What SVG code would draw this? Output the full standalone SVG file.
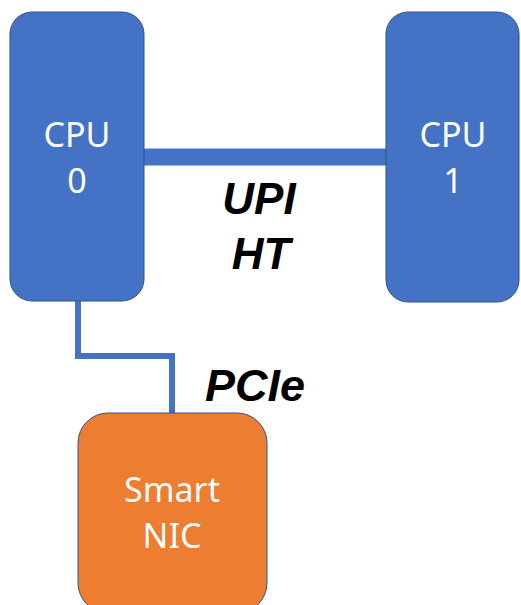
<svg xmlns="http://www.w3.org/2000/svg" width="521" height="605" viewBox="0 0 521 605">
<style>
.cpu{fill:#4472C4;stroke:#2F528F;stroke-width:1}
.nic{fill:#ED7D31;stroke:#2F528F;stroke-width:1}
.lbl{font-family:"Noto Sans","Liberation Sans",sans-serif;font-size:34px;fill:#FFFFFF;text-anchor:middle}
.conn{font-family:"Liberation Sans",Arial,sans-serif;font-size:44px;font-weight:bold;font-style:italic;fill:#000000;text-anchor:middle}
.link{fill:none;stroke:#4472C4}
</style>
<rect width="521" height="605" fill="#FFFFFF"/>
<g id="connectors">
<line class="link" x1="140" y1="157" x2="390" y2="157" stroke-width="17"/>
<polyline class="link" points="78,298 78,356 172,356 172,414" stroke-width="6"/>
<text class="conn" x="259" y="214">UPI</text>
<text class="conn" x="261" y="269">HT</text>
<text class="conn" x="255" y="401" style="font-size:45px">PCIe</text>
</g>
<g id="cpu0">
<rect class="cpu" x="10" y="12" width="134" height="289" rx="22"/>
<text class="lbl" x="77" y="147">CPU</text>
<text class="lbl" x="77" y="193">0</text>
</g>
<g id="cpu1">
<rect class="cpu" x="386" y="12" width="133" height="290" rx="22"/>
<text class="lbl" x="453" y="147">CPU</text>
<text class="lbl" x="453" y="193">1</text>
</g>
<g id="smartnic">
<rect class="nic" x="78" y="413" width="189" height="200" rx="30"/>
<text class="lbl" x="172" y="502">Smart</text>
<text class="lbl" x="172" y="548">NIC</text>
</g>
</svg>
